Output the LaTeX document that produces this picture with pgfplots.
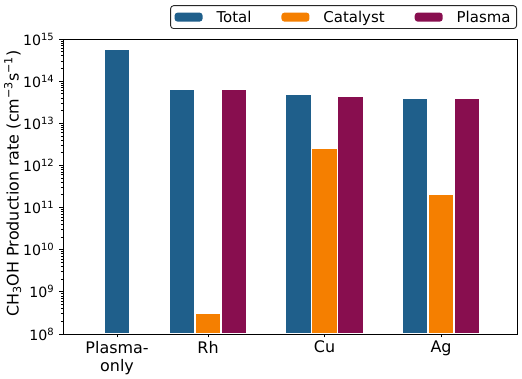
\documentclass[border=0pt]{standalone}
\usepackage{pgfplots}
\pgfplotsset{compat=1.18}
\usepackage{fontspec}
\setmainfont{DejaVu Sans}
\definecolor{ctotal}{RGB}{31,95,139}
\definecolor{ccat}{RGB}{245,127,0}
\definecolor{cplasma}{RGB}{136,14,79}
\newcommand{\tp}[1]{10\raisebox{5bp}{\fontsize{10}{10}\selectfont #1}}
\begin{document}
\begin{tikzpicture}
\useasboundingbox (-63bp,-45bp) rectangle (459bp,334bp);
\begin{axis}[
  at={(0,0)}, anchor=south west,
  scale only axis, width=454bp, height=295bp,
  ymode=log, ymin=1e8, ymax=1e15, log origin=infty,
  xmin=-0.245, xmax=3.652,
  ybar,
  axis line style={line width=0.9bp, black},
  tick style={line width=0.8bp, black},
  tick align=outside, tick pos=left,
  major tick length=3.5bp, minor tick length=2bp,
  xtick={0.219,1,2,3},
  xticklabels={{Plasma-\\only},Rh,Cu,Ag},
  xticklabel style={align=center, font=\fontsize{16}{18}\selectfont},
  ytick={1e8,1e9,1e10,1e11,1e12,1e13,1e14,1e15},
  yticklabels={\tp{8},\tp{9},\tp{10},\tp{11},\tp{12},\tp{13},\tp{14},\tp{15}},
  minor ytick={2e8,3e8,4e8,5e8,6e8,7e8,8e8,9e8,
    2e9,3e9,4e9,5e9,6e9,7e9,8e9,9e9,
    2e10,3e10,4e10,5e10,6e10,7e10,8e10,9e10,
    2e11,3e11,4e11,5e11,6e11,7e11,8e11,9e11,
    2e12,3e12,4e12,5e12,6e12,7e12,8e12,9e12,
    2e13,3e13,4e13,5e13,6e13,7e13,8e13,9e13,
    2e14,3e14,4e14,5e14,6e14,7e14,8e14,9e14},
  yticklabel style={font=\fontsize{14.2}{16}\selectfont, inner sep=0pt, xshift=-5.5bp},
  ylabel={CH\textsubscript{3}OH Production rate (cm\textsuperscript{−3}s\textsuperscript{−1})},
  ylabel style={font=\fontsize{16}{18}\selectfont, at={(axis description cs:-0.111,0.51)}, anchor=center},
  legend columns=3,
  legend image code/.code={\path[#1,draw=none,fill] (0bp,-4.5bp) rectangle (28bp,4.5bp);},
  legend style={at={(1,1)}, anchor=south east, yshift=10bp,
    draw=black!85, line width=0.9bp, rounded corners=3bp,
    font=\fontsize{15}{17}\selectfont,
    inner xsep=4bp, inner ysep=3bp,
    nodes={inner sep=2bp},
    /tikz/every odd column/.append style={column sep=12bp},
    /tikz/every even column/.append style={column sep=28bp}},
]
\addplot[ybar, bar width=0.22, bar shift=0pt, fill=ctotal, draw=white, line width=1.2bp]
  coordinates {(0.219,5.7e14) (0.777,6.4e13) (1.777,4.8e13) (2.777,4.0e13)};
\addlegendentry{Total}
\addplot[ybar, bar width=0.22, bar shift=0pt, fill=ccat, draw=white, line width=1.2bp]
  coordinates {(1,3.1e8) (2,2.6e12) (3,2.06e11)};
\addlegendentry{Catalyst}
\addplot[ybar, bar width=0.22, bar shift=0pt, fill=cplasma, draw=white, line width=1.2bp]
  coordinates {(1.223,6.4e13) (2.223,4.4e13) (3.223,4.0e13)};
\addlegendentry{Plasma}
\end{axis}
\end{tikzpicture}
\end{document}
